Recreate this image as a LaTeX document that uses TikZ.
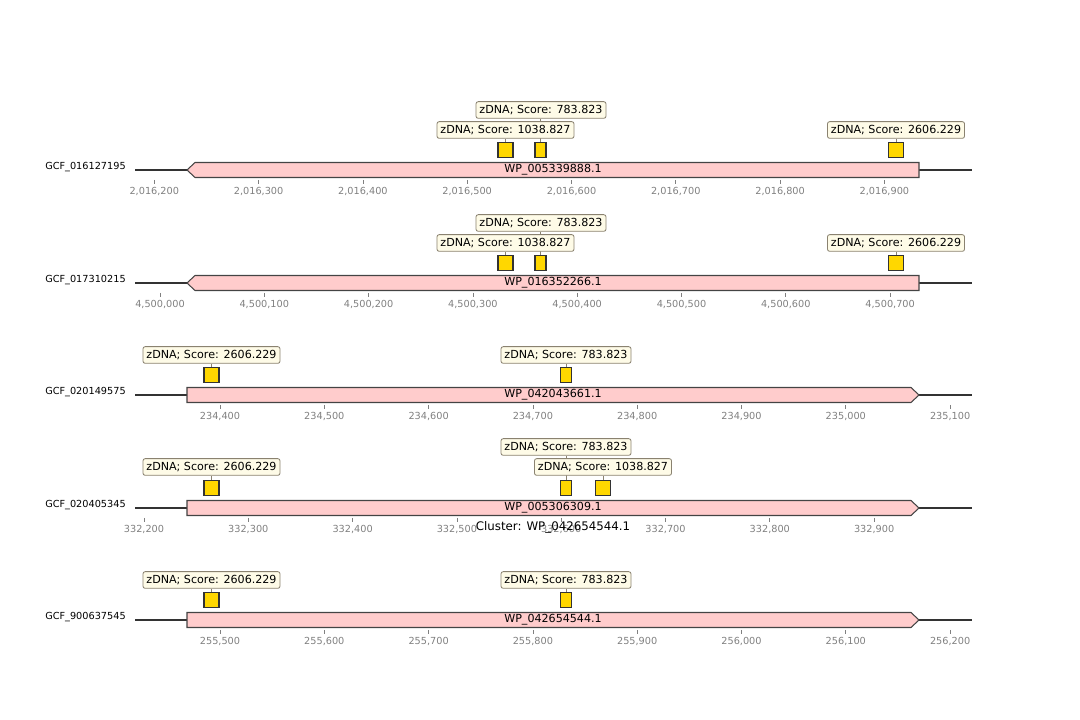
\documentclass[tikz,border=0pt]{standalone}
\usepackage{fontspec}
\setmainfont{DejaVu Sans}
\usetikzlibrary{backgrounds}
\definecolor{genefill}{HTML}{FFCCCC}
\definecolor{geneedge}{HTML}{444444}
\definecolor{trackline}{HTML}{333333}
\definecolor{featfill}{HTML}{FFD700}
\definecolor{featedge}{HTML}{333333}
\definecolor{labfill}{HTML}{FEFBE7}
\definecolor{labedge}{HTML}{8A8270}
\definecolor{tickgray}{HTML}{808080}
\newcommand\tk[4]{%
  \draw[tickmark] (#1,#2+10) -- (#1,#2+14);
  \node[ticklab] (#4) at (#1,#2+21) {#3};}
\begin{document}
\begin{tikzpicture}[x=0.72pt,y=-0.72pt,
  trackbase/.style={draw=trackline,line width=1.1pt},
  genebox/.style={draw=geneedge,fill=genefill,line width=0.75pt,line join=miter},
  genelab/.style={font=\fontsize{8}{9.6}\selectfont,inner sep=0pt},
  trackname/.style={font=\fontsize{7}{8.4}\selectfont,anchor=east,inner sep=0pt},
  tickmark/.style={draw=tickgray,line width=0.5pt},
  ticklab/.style={font=\fontsize{7}{8.4}\selectfont,text=tickgray,inner sep=0pt},
  featbig/.style={draw=featedge,fill=featfill,line width=0.75pt,minimum width=15*0.72pt,minimum height=15*0.72pt,inner sep=0pt},
  featsmall/.style={featbig,minimum width=11*0.72pt},
  zlab/.style={draw=labedge,fill=labfill,rounded corners=1.6pt,line width=0.6pt,font=\fontsize{8}{9.6}\selectfont,inner xsep=2.5pt,inner ysep=0pt,minimum height=12pt},
  conn/.style={draw=labedge,line width=0.6pt},
  titlelab/.style={font=\fontsize{8.5}{10}\selectfont,inner sep=0pt}]
\useasboundingbox (0,0) rectangle (1080,720);

% ---------------- Track 1 ----------------
\coordinate (l1) at (135,170); \coordinate (r1) at (972,170);
\draw[trackbase] (l1) -- (r1);
\draw[genebox] (187,170) -- (195,162.5) -- (919,162.5) -- (919,177.5) -- (195,177.5) -- cycle;
\node[genelab] (g1) at (553,170) {WP\_005339888.1};
\node[trackname] (n1) at (126,167) {GCF\_016127195};
\tk{154.3}{170}{2,016,200}{t1a}\tk{258.6}{170}{2,016,300}{t1b}
\tk{362.9}{170}{2,016,400}{t1c}\tk{467.2}{170}{2,016,500}{t1d}
\tk{571.5}{170}{2,016,600}{t1e}\tk{675.8}{170}{2,016,700}{t1f}
\tk{780.1}{170}{2,016,800}{t1g}\tk{884.4}{170}{2,016,900}{t1h}
\node[featbig] (f1a) at (505.5,150) {};
\node[featsmall] (f1b) at (540.5,150) {};
\node[featbig] (f1c) at (896,150) {};
\node[zlab] (z1b) at (541,110) {zDNA; Score: 783.823};
\node[zlab] (z1a) at (505.5,130) {zDNA; Score: 1038.827};
\node[zlab] (z1c) at (896,130) {zDNA; Score: 2606.229};
\begin{pgfonlayer}{background}
\draw[conn] (f1a.north) -- (f1a.north |- z1a.south);
\draw[conn] (f1b.north) -- (f1b.north |- z1b.south);
\draw[conn] (f1c.north) -- (f1c.north |- z1c.south);
\end{pgfonlayer}

% ---------------- Track 2 ----------------
\coordinate (l2) at (135,283); \coordinate (r2) at (972,283);
\draw[trackbase] (l2) -- (r2);
\draw[genebox] (187,283) -- (195,275.5) -- (919,275.5) -- (919,290.5) -- (195,290.5) -- cycle;
\node[genelab] (g2) at (553,283) {WP\_016352266.1};
\node[trackname] (n2) at (126,280) {GCF\_017310215};
\tk{160}{283}{4,500,000}{t2a}\tk{264.3}{283}{4,500,100}{t2b}
\tk{368.6}{283}{4,500,200}{t2c}\tk{472.9}{283}{4,500,300}{t2d}
\tk{577.2}{283}{4,500,400}{t2e}\tk{681.5}{283}{4,500,500}{t2f}
\tk{785.8}{283}{4,500,600}{t2g}\tk{890.1}{283}{4,500,700}{t2h}
\node[featbig] (f2a) at (505.5,263) {};
\node[featsmall] (f2b) at (540.5,263) {};
\node[featbig] (f2c) at (896,263) {};
\node[zlab] (z2b) at (541,223) {zDNA; Score: 783.823};
\node[zlab] (z2a) at (505.5,243) {zDNA; Score: 1038.827};
\node[zlab] (z2c) at (896,243) {zDNA; Score: 2606.229};
\begin{pgfonlayer}{background}
\draw[conn] (f2a.north) -- (f2a.north |- z2a.south);
\draw[conn] (f2b.north) -- (f2b.north |- z2b.south);
\draw[conn] (f2c.north) -- (f2c.north |- z2c.south);
\end{pgfonlayer}

% ---------------- Track 3 ----------------
\coordinate (l3) at (135,395); \coordinate (r3) at (972,395);
\draw[trackbase] (l3) -- (r3);
\draw[genebox] (187,387.5) -- (911,387.5) -- (919,395) -- (911,402.5) -- (187,402.5) -- cycle;
\node[genelab] (g3) at (553,395) {WP\_042043661.1};
\node[trackname] (n3) at (126,392) {GCF\_020149575};
\tk{220}{395}{234,400}{t3a}\tk{324.3}{395}{234,500}{t3b}
\tk{428.6}{395}{234,600}{t3c}\tk{532.9}{395}{234,700}{t3d}
\tk{637.2}{395}{234,800}{t3e}\tk{741.5}{395}{234,900}{t3f}
\tk{845.8}{395}{235,000}{t3g}\tk{950.1}{395}{235,100}{t3h}
\node[featbig] (f3a) at (211.5,375) {};
\node[featsmall] (f3b) at (566,375) {};
\node[zlab] (z3a) at (211.5,355) {zDNA; Score: 2606.229};
\node[zlab] (z3b) at (566,355) {zDNA; Score: 783.823};
\begin{pgfonlayer}{background}
\draw[conn] (f3a.north) -- (f3a.north |- z3a.south);
\draw[conn] (f3b.north) -- (f3b.north |- z3b.south);
\end{pgfonlayer}

% ---------------- Track 4 ----------------
\coordinate (l4) at (135,508); \coordinate (r4) at (972,508);
\draw[trackbase] (l4) -- (r4);
\draw[genebox] (187,500.5) -- (911,500.5) -- (919,508) -- (911,515.5) -- (187,515.5) -- cycle;
\node[genelab] (g4) at (553,508) {WP\_005306309.1};
\node[trackname] (n4) at (126,505) {GCF\_020405345};
\tk{144}{508}{332,200}{t4a}\tk{248.3}{508}{332,300}{t4b}
\tk{352.6}{508}{332,400}{t4c}\tk{456.9}{508}{332,500}{t4d}
\tk{561.2}{508}{332,600}{t4e}\tk{665.5}{508}{332,700}{t4f}
\tk{769.8}{508}{332,800}{t4g}\tk{874.1}{508}{332,900}{t4h}
\node[featbig] (f4a) at (211.5,488) {};
\node[featsmall] (f4b) at (566,488) {};
\node[featbig] (f4c) at (603,488) {};
\node[zlab] (z4a) at (211.5,467) {zDNA; Score: 2606.229};
\node[zlab] (z4b) at (566,447) {zDNA; Score: 783.823};
\node[zlab] (z4c) at (603,467) {zDNA; Score: 1038.827};
\begin{pgfonlayer}{background}
\draw[conn] (f4a.north) -- (f4a.north |- z4a.south);
\draw[conn] (f4b.north) -- (f4b.north |- z4b.south);
\draw[conn] (f4c.north) -- (f4c.north |- z4c.south);
\end{pgfonlayer}
\node[titlelab] (title) at (553,527) {Cluster: WP\_042654544.1};

% ---------------- Track 5 ----------------
\coordinate (l5) at (135,620); \coordinate (r5) at (972,620);
\draw[trackbase] (l5) -- (r5);
\draw[genebox] (187,612.5) -- (911,612.5) -- (919,620) -- (911,627.5) -- (187,627.5) -- cycle;
\node[genelab] (g5) at (553,620) {WP\_042654544.1};
\node[trackname] (n5) at (126,617) {GCF\_900637545};
\tk{220}{620}{255,500}{t5a}\tk{324.3}{620}{255,600}{t5b}
\tk{428.6}{620}{255,700}{t5c}\tk{532.9}{620}{255,800}{t5d}
\tk{637.2}{620}{255,900}{t5e}\tk{741.5}{620}{256,000}{t5f}
\tk{845.8}{620}{256,100}{t5g}\tk{950.1}{620}{256,200}{t5h}
\node[featbig] (f5a) at (211.5,600) {};
\node[featsmall] (f5b) at (566,600) {};
\node[zlab] (z5a) at (211.5,580) {zDNA; Score: 2606.229};
\node[zlab] (z5b) at (566,580) {zDNA; Score: 783.823};
\begin{pgfonlayer}{background}
\draw[conn] (f5a.north) -- (f5a.north |- z5a.south);
\draw[conn] (f5b.north) -- (f5b.north |- z5b.south);
\end{pgfonlayer}
\end{tikzpicture}
\end{document}
